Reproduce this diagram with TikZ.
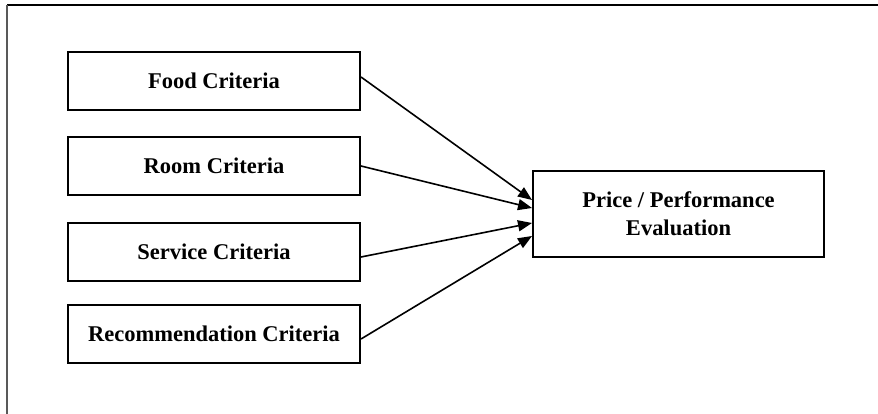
\documentclass[tikz,border=0pt]{standalone}
\usepackage{fontspec}
\setmainfont{Liberation Serif}
\usetikzlibrary{arrows.meta}
\begin{document}
\begin{tikzpicture}[x=1pt,y=-1pt,
  crit/.style={draw=black, line width=2pt, minimum width=292pt, minimum height=58pt, inner sep=0pt,
    font=\fontsize{22.5}{26}\selectfont\bfseries, align=center},
  evalbox/.style={draw=black, line width=2pt, minimum width=291pt, minimum height=86pt, inner sep=0pt,
    font=\fontsize{22.5}{28}\selectfont\bfseries, align=center},
  conn/.style={line width=1.6pt, -{Triangle[length=14pt,width=11pt]}}]
\useasboundingbox (0,0) rectangle (878,414);
\coordinate (tl) at (7,5);
\coordinate (tr) at (878,5);
\coordinate (bl) at (7,414);
\draw[line width=2.2pt] (tl) -- (tr);
\draw[line width=1.6pt, black!65] (tl) -- (bl);
\node[crit] (food) at (214,81) {Food Criteria};
\node[crit] (room) at (214,166) {Room Criteria};
\node[crit] (serv) at (214,252) {Service Criteria};
\node[crit] (rec) at (214,334) {Recommendation Criteria};
\node[evalbox] (eval) at (678.5,214) {Price / Performance\\Evaluation};
\draw[conn] ([yshift=4pt]food.east) -- ([yshift=14pt]eval.west);
\draw[conn] (room.east) -- ([yshift=6pt]eval.west);
\draw[conn] ([yshift=-5pt]serv.east) -- ([yshift=-9pt]eval.west);
\draw[conn] ([yshift=-5pt]rec.east) -- ([yshift=-22pt]eval.west);
\end{tikzpicture}
\end{document}
